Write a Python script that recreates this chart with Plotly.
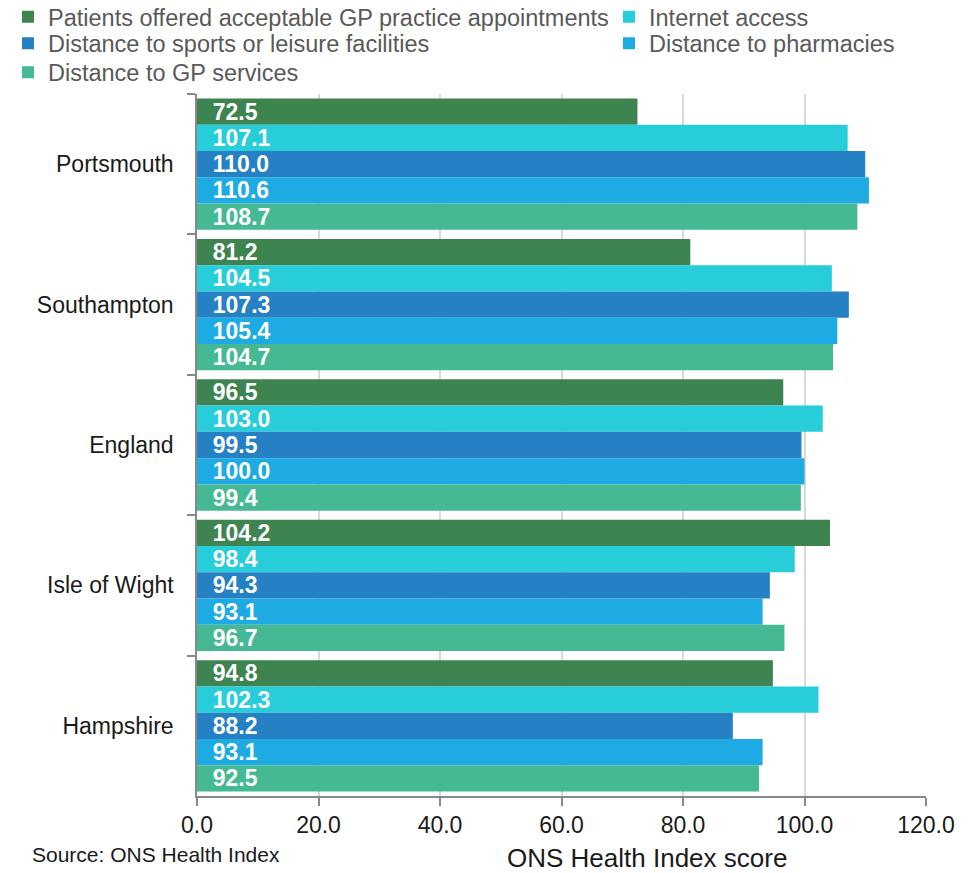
import plotly.graph_objects as go

areas = ["Portsmouth", "Southampton", "England", "Isle of Wight", "Hampshire"]
series_names = [
    "Patients offered acceptable GP practice appointments",
    "Internet access",
    "Distance to sports or leisure facilities",
    "Distance to pharmacies",
    "Distance to GP services",
]
gp_appointments = [72.5, 81.2, 96.5, 104.2, 94.8]
internet_access = [107.1, 104.5, 103.0, 98.4, 102.3]
sports_leisure = [110.0, 107.3, 99.5, 94.3, 88.2]
pharmacies = [110.6, 105.4, 100.0, 93.1, 93.1]
gp_services = [108.7, 104.7, 99.4, 96.7, 92.5]
x_ticks = [0, 20, 40, 60, 80, 100, 120]

colors = ["#3d8451", "#27cdd8", "#2580c4", "#1eaae2", "#45b994"]
all_values = [gp_appointments, internet_access, sports_leisure, pharmacies, gp_services]

FONT = "Liberation Sans, Arial, sans-serif"

# page has an 8px body margin; figure is sized to fit inside the 968x873 window
W, H = 960, 865

legend_ids = ["legend", "legend2", "legend3", "legend4", "legend5"]
# (left px, row-centre px) in figure coordinates
legend_pos = [(0, 9), (601, 9), (0, 35.5), (601, 35.5), (0, 64.5)]

fig = go.Figure()
for name, vals, col, lg in zip(series_names, all_values, colors, legend_ids):
    fig.add_trace(go.Bar(
        y=areas, x=vals, name=name, orientation="h",
        marker=dict(color=col, line=dict(width=0)),
        text=[f"{v:.1f}" for v in vals],
        texttemplate="  %{text}",
        textposition="inside", insidetextanchor="start",
        textfont=dict(family=FONT, size=23, color="white", weight="bold"),
        constraintext="none",
        legend=lg,
        hoverinfo="x+name",
    ))

legends = {}
for lg, (lx, ly) in zip(legend_ids, legend_pos):
    legends[lg] = dict(
        orientation="v", xref="container", yref="container",
        x=lx / W, y=1 - ly / H, xanchor="left", yanchor="middle",
        font=dict(family=FONT, size=23.5, color="#595959"),
        itemwidth=30, bgcolor="rgba(0,0,0,0)",
    )

fig.update_layout(
    width=W, height=H,
    barmode="group", bargap=0.065, bargroupgap=0,
    plot_bgcolor="white", paper_bgcolor="white",
    margin=dict(l=189, r=42, t=86, b=77, autoexpand=False),
    font=dict(family=FONT, size=23, color="#1a1a1a"),
    showlegend=True,
    **legends,
    xaxis=dict(
        range=[0, 120], tickvals=x_ticks,
        ticktext=[f"{v:.1f}" for v in x_ticks],
        showgrid=True, gridcolor="#d9d9d9", gridwidth=1.5,
        showline=True, linecolor="#888888", linewidth=1.5,
        ticks="outside", ticklen=8, tickcolor="#888888", tickwidth=1.5,
        zeroline=False, automargin=False,
        tickfont=dict(family=FONT, size=23, color="#1a1a1a"),
    ),
    yaxis=dict(
        autorange="reversed",
        showline=True, linecolor="#888888", linewidth=1.5,
        ticks="outside", tickson="boundaries", ticklen=8,
        tickcolor="#888888", tickwidth=1.5, automargin=False,
        tickfont=dict(family=FONT, size=23, color="#1a1a1a"),
        ticklabelstandoff=17,
    ),
    annotations=[
        dict(text="Source: ONS Health Index", xref="paper", yref="paper",
             x=-0.229, y=-0.084, xanchor="left", yanchor="middle", showarrow=False,
             font=dict(family=FONT, size=21, color="#1a1a1a")),
        dict(text="ONS Health Index score", xref="paper", yref="paper",
             x=0.617, y=-0.0883, xanchor="center", yanchor="middle", showarrow=False,
             font=dict(family=FONT, size=26, color="#1a1a1a")),
    ],
)

fig.write_html("out.html")
